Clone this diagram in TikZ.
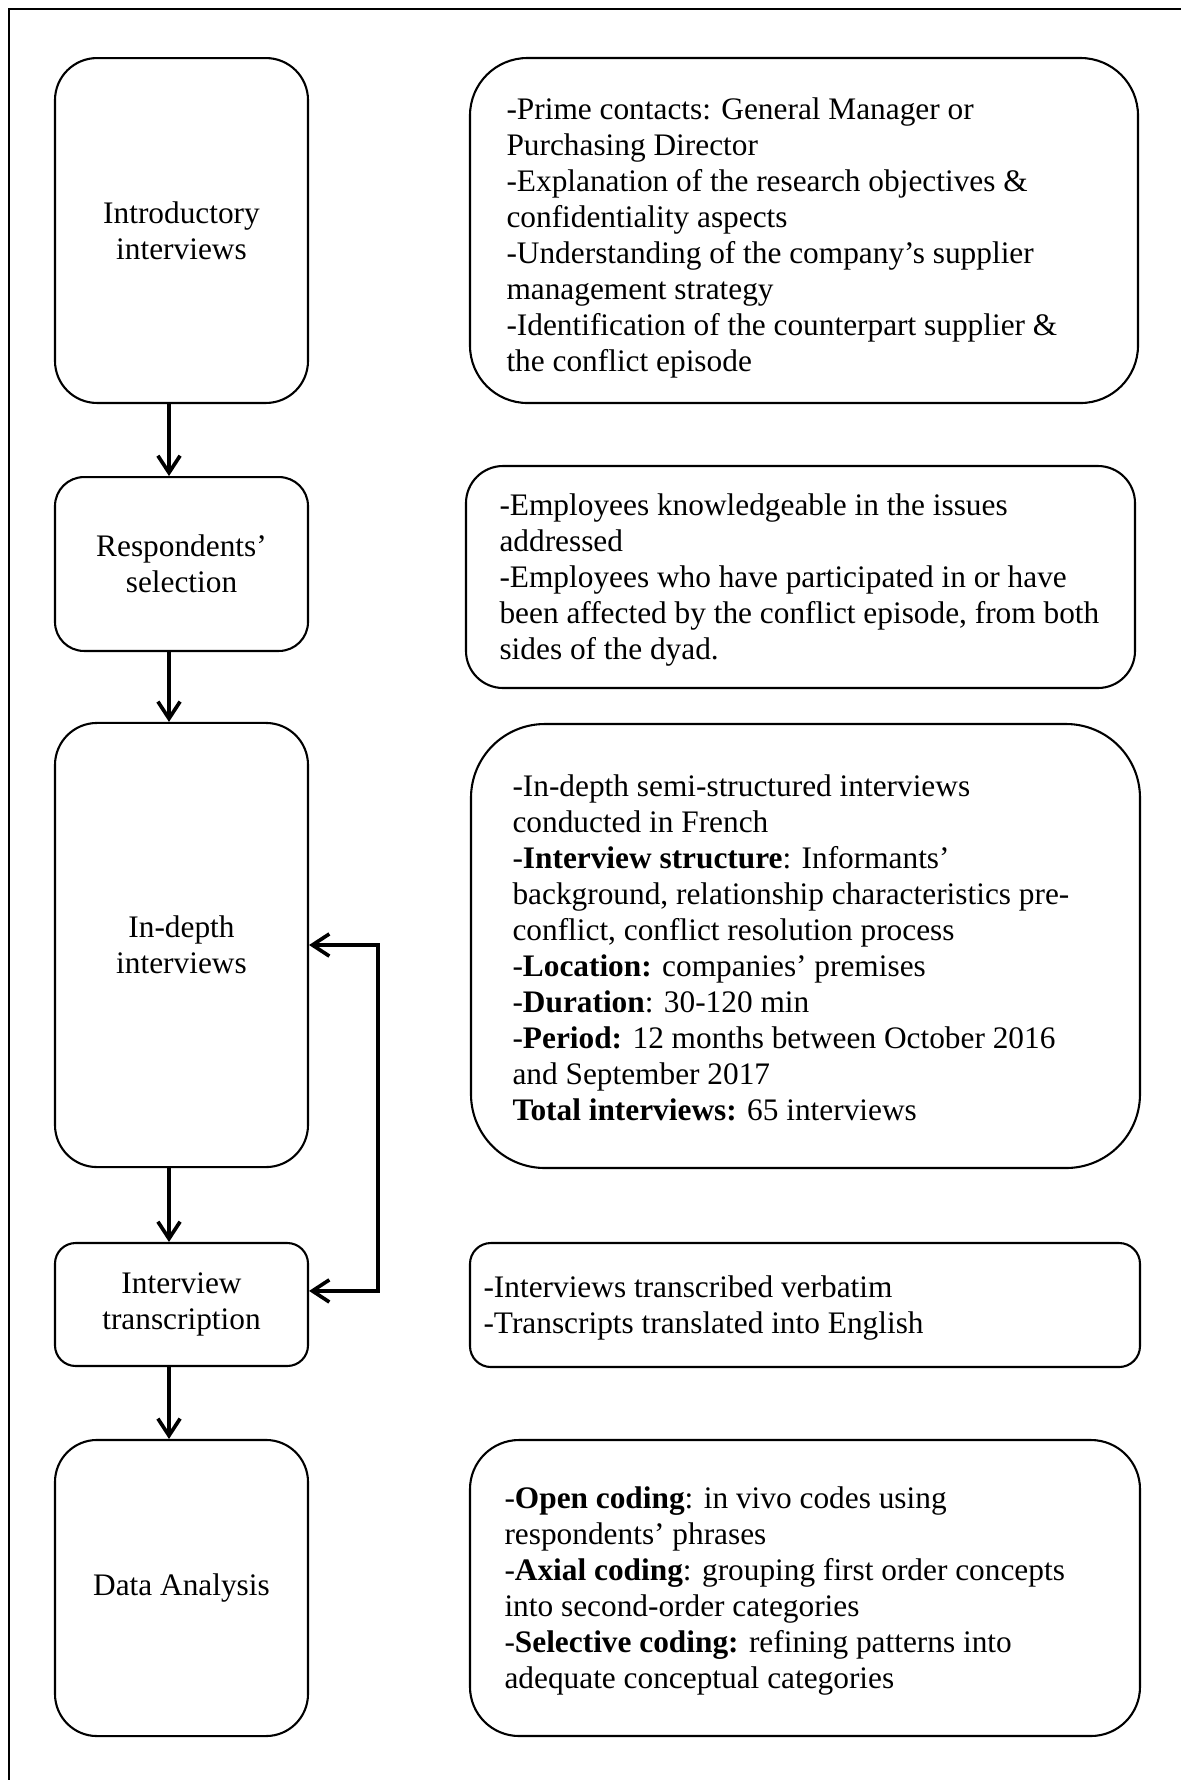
\documentclass[tikz,border=0pt]{standalone}
\usepackage{fontspec}
\setmainfont{Liberation Serif}
\usetikzlibrary{arrows.meta,fit}
\newcommand\stagefont{\fontsize{12pt}{13.8pt}\selectfont}
\begin{document}
\begin{tikzpicture}[x=0.383pt,y=-0.383pt,
  box/.style={draw, line width=0.8pt, inner sep=0pt},
  stage/.style={box, align=center, font=\stagefont, minimum width=96.9pt},
  txt/.style={anchor=west, align=left, inner sep=0pt, font=\stagefont},
  tip/.tip={Straight Barb[length=6.5pt,width=8.5pt]},
  flow/.style={line width=1.4pt, -tip},
  loopflow/.style={line width=1.4pt, tip-tip},
]
\useasboundingbox (0,0) rectangle (1181,1780);
% outer frame (only its top and left edges fall on the page)
\draw[line width=1.1pt] (9,1780) -- (9,9) -- (1181,9);

% ---- stages (left column) ----
\node[stage, rounded corners=16.1pt, minimum height=132.1pt] (b1) at (181.5,230.5) {Introductory\\interviews};
\node[stage, rounded corners=11.1pt, minimum height=66.6pt] (b2) at (181.5,564) {Respondents’\\selection};
\node[stage, rounded corners=16.1pt, minimum height=170.1pt] (b3) at (181.5,945) {In-depth\\interviews};
\node[stage, rounded corners=7.9pt, minimum height=47.1pt] (b4) at (181.5,1304.5) {Interview\\transcription};
\node[stage, rounded corners=16.1pt, minimum height=113.4pt] (b5) at (181.5,1588) {Data Analysis};

% ---- details (right column) ----
\node[txt] (t1) at (506,238) {-Prime contacts: General Manager or\\
Purchasing Director\\
-Explanation of the research objectives \&\\
confidentiality aspects\\
-Understanding of the company’s supplier\\
management strategy\\
-Identification of the counterpart supplier \&\\
the conflict episode};
\node[box, rounded corners=22pt, fit={(470,58) (1138,403)}] (r1) {};

\node[txt] (t2) at (499,580) {-Employees knowledgeable in the issues\\
addressed\\
-Employees who have participated in or have\\
been affected by the conflict episode, from both\\
sides of the dyad.};
\node[box, rounded corners=14.2pt, fit={(466,466) (1135,688)}] (r2) {};

\node[txt] (t3) at (512,948) {-In-depth semi-structured interviews\\
conducted in French\\
-\textbf{Interview structure}: Informants’\\
background, relationship characteristics pre-\\
conflict, conflict resolution process\\
-\textbf{Location:} companies’ premises\\
-\textbf{Duration}: 30-120 min\\
-\textbf{Period:} 12 months between October 2016\\
and September 2017\\
\textbf{Total interviews:} 65 interviews};
\node[box, rounded corners=28.3pt, fit={(471,724) (1140,1168)}] (r3) {};

\node[txt] (t4) at (483,1308) {-Interviews transcribed verbatim\\
-Transcripts translated into English};
\node[box, rounded corners=8pt, fit={(470,1243) (1140,1367)}] (r4) {};

\node[txt] (t5) at (504,1591) {-\textbf{Open coding}: in vivo codes using\\
respondents’ phrases\\
-\textbf{Axial coding}: grouping first order concepts\\
into second-order categories\\
-\textbf{Selective coding:} refining patterns into\\
adequate conceptual categories};
\node[box, rounded corners=18.8pt, fit={(470,1440) (1140,1736)}] (r5) {};

% ---- connectors ----
\coordinate (ax) at (169,0);
\coordinate (loop) at (378,0);
\draw[flow] (b1.south -| ax) -- (b2.north -| ax);
\draw[flow] (b2.south -| ax) -- (b3.north -| ax);
\draw[flow] (b3.south -| ax) -- (b4.north -| ax);
\draw[flow] (b4.south -| ax) -- (b5.north -| ax);
\draw[loopflow] (b3.east) -- (b3.east -| loop) -- ([yshift=5.2pt]b4.east -| loop) -- ([yshift=5.2pt]b4.east);
\end{tikzpicture}
\end{document}
